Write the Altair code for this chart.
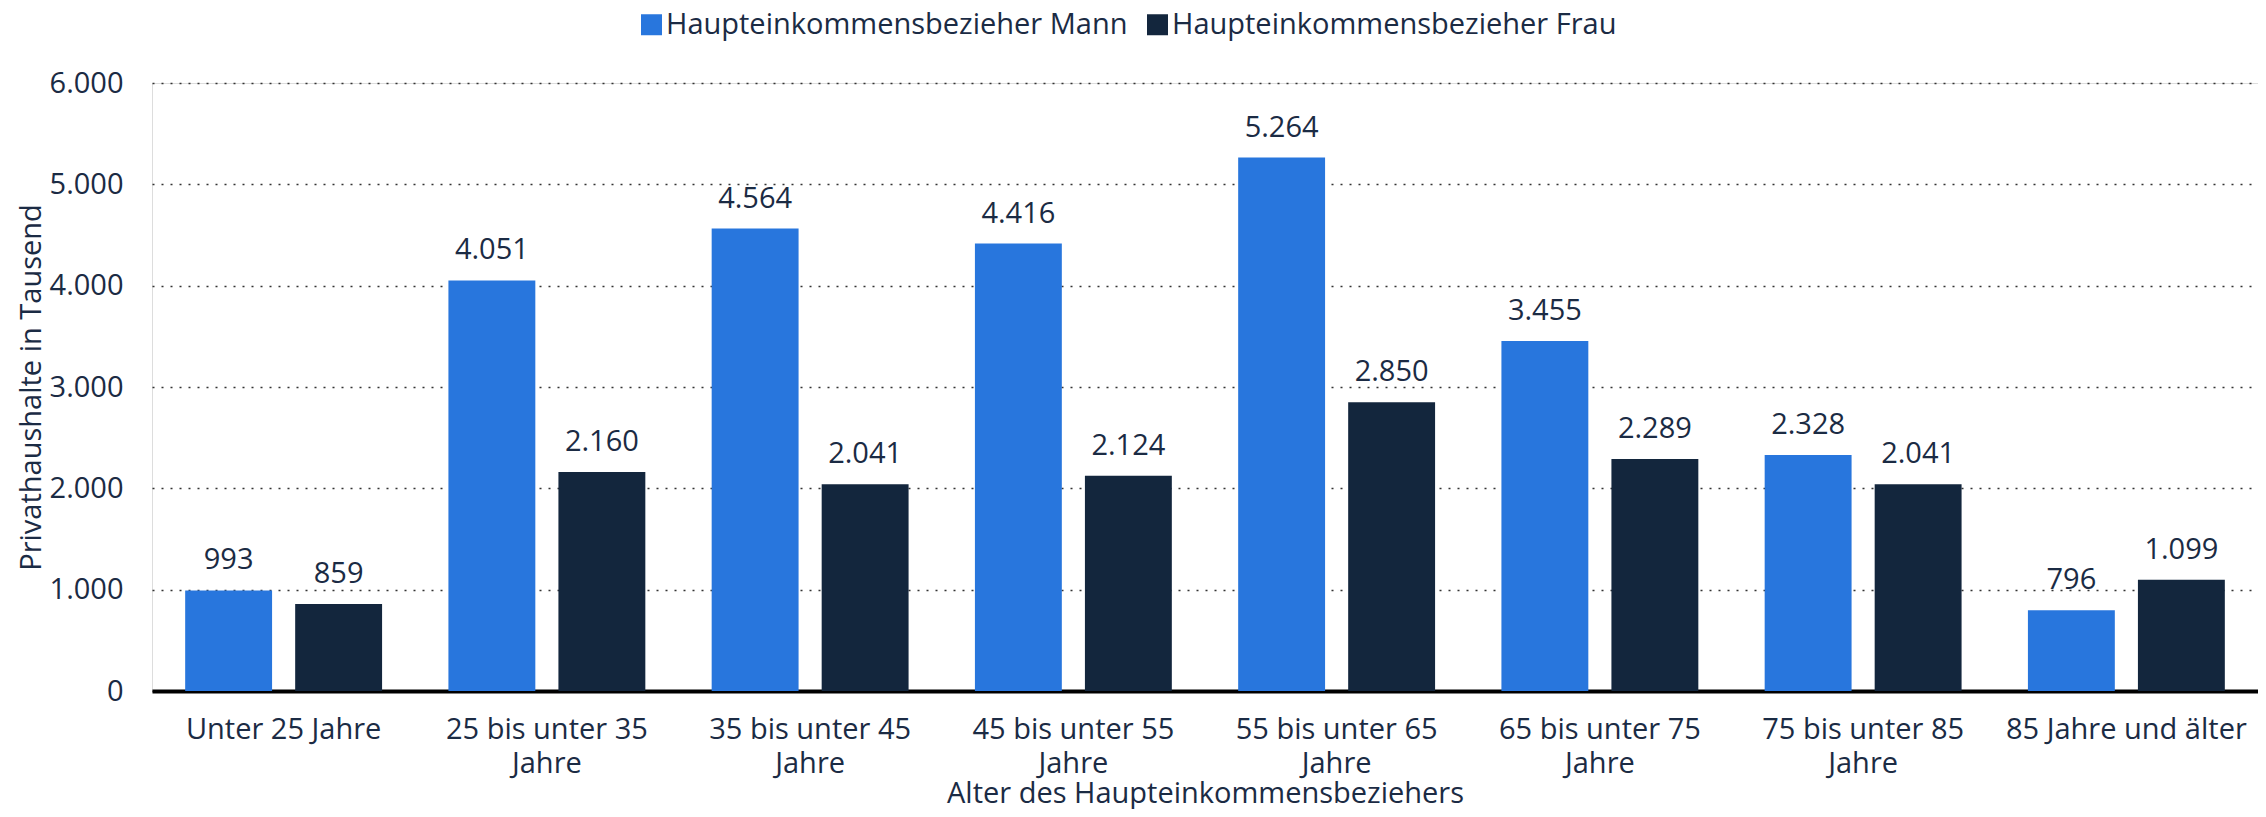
import altair as alt
import pandas as pd

categories = [
    "Unter 25 Jahre",
    "25 bis unter 35 Jahre",
    "35 bis unter 45 Jahre",
    "45 bis unter 55 Jahre",
    "55 bis unter 65 Jahre",
    "65 bis unter 75 Jahre",
    "75 bis unter 85 Jahre",
    "85 Jahre und älter",
]
series_names = ["Haupteinkommensbezieher Mann", "Haupteinkommensbezieher Frau"]
mann = [993, 4051, 4564, 4416, 5264, 3455, 2328, 796]
frau = [859, 2160, 2041, 2124, 2850, 2289, 2041, 1099]
colors = ["#2876dd", "#13263d"]

rows = []
for i, c in enumerate(categories):
    rows.append({"Alter": c, "Gruppe": series_names[0], "Wert": mann[i]})
    rows.append({"Alter": c, "Gruppe": series_names[1], "Wert": frau[i]})
df = pd.DataFrame(rows)

FONT = "Open Sans"
TXT = "#1b2b44"
FS = 29

x_enc = alt.X(
    "Alter:N",
    sort=categories,
    scale=alt.Scale(paddingInner=0.252, paddingOuter=0.126),
    axis=alt.Axis(
        title="Alter des Haupteinkommensbeziehers",
        labelAngle=0,
        labelExpr="indexof(datum.value, 'bis') >= 0 ? [replace(datum.value, ' Jahre', ''), 'Jahre'] : datum.value",
        labelFont=FONT,
        labelFontSize=FS,
        labelColor=TXT,
        labelPadding=24,
        labelLineHeight=34,
        labelLimit=0,
        labelOverlap=False,
        ticks=False,
        tickSize=0,
        domainColor="#000000",
        domainWidth=4,
        titleFont=FONT,
        titleFontSize=FS,
        titleFontWeight="normal",
        titleColor=TXT,
        titleBaseline="alphabetic",
        titleY=111,
        grid=False,
    ),
)
xoff = alt.XOffset(
    "Gruppe:N",
    sort=series_names,
    scale=alt.Scale(paddingInner=0.21, paddingOuter=0),
)
y_enc = alt.Y(
    "Wert:Q",
    scale=alt.Scale(domain=[0, 6000], nice=False),
    axis=alt.Axis(
        title="Privathaushalte in Tausend",
        values=[0, 1000, 2000, 3000, 4000, 5000, 6000],
        labelExpr="replace(format(datum.value, ','), ',', '.')",
        labelFont=FONT,
        labelFontSize=FS,
        labelColor=TXT,
        labelPadding=29,
        ticks=False,
        tickSize=0,
        domain=False,
        grid=True,
        gridColor="#333333",
        gridWidth=1.5,
        gridDash=[2, 7],
        titleFont=FONT,
        titleFontSize=FS,
        titleFontWeight="normal",
        titleColor=TXT,
        titleBaseline="alphabetic",
        titleX=-112,
    ),
)
color_enc = alt.Color(
    "Gruppe:N",
    sort=series_names,
    scale=alt.Scale(domain=series_names, range=colors),
    legend=alt.Legend(
        title=None,
        orient="none",
        direction="horizontal",
        legendX=485,
        legendY=-73,
        padding=0,
        symbolType="square",
        symbolSize=441,
        symbolStrokeWidth=0,
        symbolOpacity=1,
        labelFont=FONT,
        labelFontSize=FS,
        labelColor=TXT,
        labelOffset=0,
        labelLimit=0,
        columnPadding=15,
    ),
)

bars = alt.Chart(df).mark_bar().encode(
    x=x_enc, xOffset=xoff, y=y_enc, color=color_enc
)

labels = alt.Chart(df).transform_calculate(
    lab="replace(format(datum.Wert, ','), ',', '.')"
).mark_text(
    font=FONT, fontSize=FS, color=TXT, baseline="alphabetic", dy=-21
).encode(
    x=alt.X("Alter:N", sort=categories), xOffset=alt.XOffset("Gruppe:N", sort=series_names),
    y="Wert:Q", text="lab:N"
)

chart = alt.layer(bars, labels).properties(
    width=2106,
    height=608,
    autosize=alt.AutoSizeParams(type="none"),
    padding={"left": 144, "top": 75, "right": 0, "bottom": 118},
).configure_view(stroke=None).configure(background="white")

chart.save("out.html", embed_options={"renderer": "svg", "actions": False})
